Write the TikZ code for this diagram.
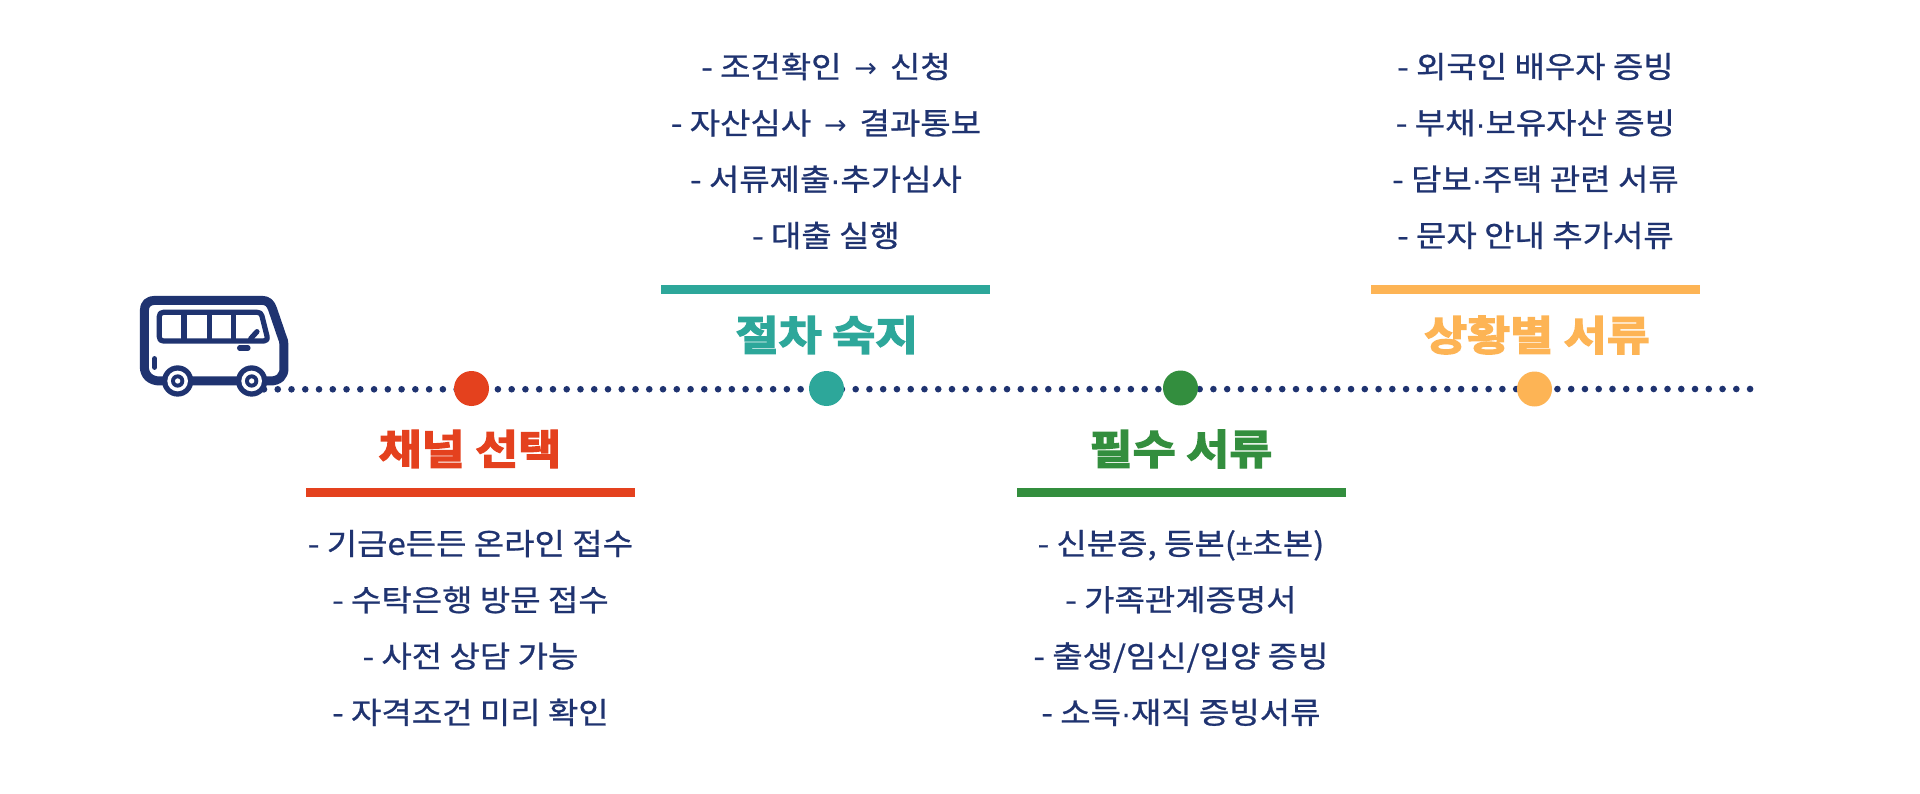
\documentclass[tikz,border=0pt]{standalone}
\usepackage{fontspec}
\setmainfont{Noto Sans CJK KR}[FakeStretch=1.1,FakeBold=0.8]
\newfontfamily\titlefont{Noto Sans CJK KR Bold}[FakeBold=3.5,FakeStretch=1.14]
\newfontfamily\latinf{Liberation Sans}[FakeBold=0.4]
\newfontfamily\arrowf{DejaVu Sans}
\newcommand{\mdot}{{\latinf ·}}
\newcommand{\plusmn}{{\latinf ±}}
\newcommand{\rarr}{\kern5.5pt{\arrowf\fontsize{27}{56.3}\selectfont →}\kern5.5pt}
\definecolor{navy}{HTML}{1F3370}
\definecolor{cred}{HTML}{E4411E}
\definecolor{cteal}{HTML}{2DA79A}
\definecolor{cgreen}{HTML}{338E3E}
\definecolor{corange}{HTML}{FDB455}
\tikzset{
  x=1pt,y=-1pt,
  listtext/.style={text=navy,align=center,inner sep=0pt,font=\fontsize{30}{56.3}\selectfont},
  titletext/.style={inner sep=0pt,font=\titlefont\fontsize{41}{44}\selectfont},
  stopdot/.style={circle,minimum size=35pt,inner sep=0pt,fill=#1},
  rule/.style={draw=none,fill=#1,minimum width=329pt,minimum height=9.5pt,inner sep=0pt},
  trail/.style={navy,line width=6.6pt,line cap=round,dash pattern=on 0pt off 13.76pt},
  busline/.style={navy,line width=9pt,line join=round,line cap=round},
  busthin/.style={navy,line width=5.2pt,line join=round,line cap=round},
}
\begin{document}
\begin{tikzpicture}
\useasboundingbox (0,0) rectangle (1920,794);
\fill[white] (0,0) rectangle (1920,794);
\begin{scope}[shift={(120,270)},x=0.3333pt,y=-0.3333pt]
  \coordinate (wheelA) at (173,333);
  \coordinate (wheelB) at (395,333);
  \coordinate (trailstart) at (432,358);
  \draw[busline] (173,333) -- (120,333) .. controls (90,333) and (73,315) .. (73,290) -- (73,122)
     .. controls (73,102) and (85,91) .. (105,91) -- (425,91)
     .. controls (443,91) and (452,100) .. (458,118) -- (486,200)
     .. controls (490,210) and (492,215) .. (492,225) -- (492,295)
     .. controls (492,318) and (478,333) .. (450,333) -- (173,333);
  \draw[busthin] (130,127) -- (412,127) .. controls (420,127) and (423,130) .. (426,138) -- (441,198)
     .. controls (443,208) and (440,213) .. (432,213) -- (130,213)
     .. controls (122,213) and (118,209) .. (118,201) -- (118,139) .. controls (118,131) and (122,127) .. (130,127) -- cycle;
  \draw[busthin,line cap=butt] (192,127) -- (192,213) (268,127) -- (268,213) (341,127) -- (341,213);
  \draw[busthin] (392,206) -- (411,185);
  \draw[busthin] (359,234) -- (384,234);
  \draw[busthin] (104,266) -- (104,292);
  \foreach \wh in {wheelA,wheelB}{
    \fill[navy] (\wh) circle[radius=47];
    \fill[white] (\wh) circle[radius=31];
    \fill[navy] (\wh) circle[radius=20];
    \fill[white] (\wh) circle[radius=8];
  }
\end{scope}
\coordinate (trailend) at (1754,389);
\draw[trail] (trailstart) -- (trailend);
\node[stopdot=cred]    (s1) at (471.5,388.5) {};
\node[stopdot=cteal]   (s2) at (826.5,388.5) {};
\node[stopdot=cgreen]  (s3) at (1180.5,388) {};
\node[stopdot=corange] (s4) at (1534.5,389) {};
\node[titletext,text=cred]    (t1) at (470,449) {채널 선택};
\node[titletext,text=cteal]   (t2) at (827,335) {절차 숙지};
\node[titletext,text=cgreen]  (t3) at (1181,449) {필수 서류};
\node[titletext,text=corange] (t4) at (1537,335) {상황별 서류};
\node[rule=cred]    (r1) at (470,492.5) {};
\node[rule=cteal]   (r2) at (825,289.5) {};
\node[rule=cgreen]  (r3) at (1181,492.5) {};
\node[rule=corange] (r4) at (1535.5,289.5) {};
\node[listtext] (l1) at (470.5,628) {- 기금e든든 온라인 접수\\- 수탁은행 방문 접수\\- 사전 상담 가능\\- 자격조건 미리 확인};
\node[listtext] (l2) at (826,151) {- 조건확인 \rarr{} 신청\\- 자산심사 \rarr{} 결과통보\\- 서류제출\mdot{}추가심사\\- 대출 실행};
\node[listtext] (l3) at (1181,628) {- 신분증, 등본(\plusmn{}초본)\\- 가족관계증명서\\- 출생/임신/입양 증빙\\- 소득\mdot{}재직 증빙서류};
\node[listtext] (l4) at (1535.5,151) {- 외국인 배우자 증빙\\- 부채\mdot{}보유자산 증빙\\- 담보\mdot{}주택 관련 서류\\- 문자 안내 추가서류};
\end{tikzpicture}
\end{document}
